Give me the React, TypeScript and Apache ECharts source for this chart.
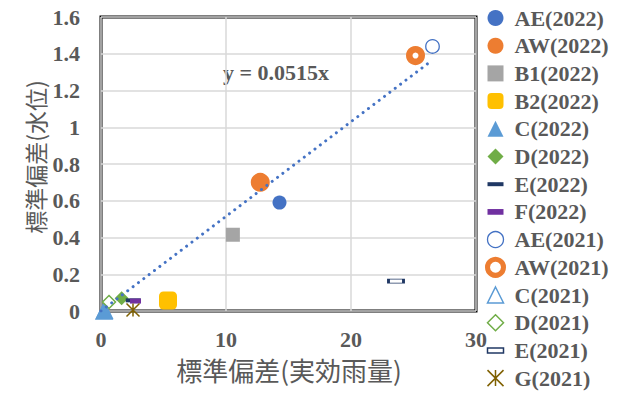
import React, { useEffect, useRef } from "react";
import * as echarts from "echarts";

// ---- data ----
const seriesNames = [
  "AE(2022)", "AW(2022)", "B1(2022)", "B2(2022)", "C(2022)", "D(2022)", "E(2022)",
  "F(2022)", "AE(2021)", "AW(2021)", "C(2021)", "D(2021)", "E(2021)", "G(2021)",
];
const xValues = [14.28, 12.74, 10.55, 5.36, 0.28, 1.65, 2.58, 2.76, 26.52, 25.16, 0.25, 0.64, 23.6, 2.56];
const yValues = [0.59, 0.70, 0.415, 0.057, 0.005, 0.069, 0.058, 0.054, 1.44, 1.39, 0.0, 0.049, 0.162, 0.005];
const trendSlope = 0.0515;
const xTicks = [0, 10, 20, 30];
const yTicks = [0, 0.2, 0.4, 0.6, 0.8, 1, 1.2, 1.4, 1.6];
const xTitle = "標準偏差(実効雨量)";
const yTitle = "標準偏差(水位)";

// ---- styles ----
const BLUE = "#4472C4";
const ORANGE = "#ED7D31";
const GRAY = "#A5A5A5";
const YELLOW = "#FFC000";
const LBLUE = "#5B9BD5";
const GREEN = "#70AD47";
const NAVY = "#203864";
const PURPLE = "#7030A0";
const BROWN = "#7F6000";
const TXT = "#595959";
const STAR = "path://M0,0L10,10M10,0L0,10M5,0L5,10";

type Sty = { symbol: string; size: number | number[]; item: any; icon?: string; legendItem?: any; z?: number };
const styles: Sty[] = [
  { symbol: "circle", size: 14, item: { color: BLUE } },
  { symbol: "circle", size: 19, item: { color: ORANGE } },
  { symbol: "rect", size: 14, item: { color: GRAY } },
  { symbol: "roundRect", size: 18, item: { color: YELLOW } },
  { symbol: "triangle", size: 18, item: { color: LBLUE } },
  { symbol: "diamond", size: 14, item: { color: GREEN } },
  { symbol: "rect", size: [15, 4], item: { color: NAVY }, icon: "path://M0,0h16v4h-16z" },
  { symbol: "rect", size: [11, 5], item: { color: PURPLE }, icon: "path://M0,0h14v5h-14z" },
  { symbol: "circle", size: 13.5, item: { color: "#fff", borderColor: BLUE, borderWidth: 1.3 }, legendItem: { borderWidth: 1.3 } },
  { symbol: "circle", size: 12.5, item: { color: "#fff", borderColor: ORANGE, borderWidth: 6.5 }, legendItem: { borderWidth: 5 } },
  { symbol: "triangle", size: 16, item: { color: "#fff", borderColor: LBLUE, borderWidth: 1.5 }, legendItem: { borderWidth: 1.5 }, z: 1 },
  { symbol: "diamond", size: 13, item: { color: "#fff", borderColor: GREEN, borderWidth: 1.5 }, legendItem: { borderWidth: 1.5 } },
  { symbol: "rect", size: [15, 4], item: { color: "#fff", borderColor: NAVY, borderWidth: 1.5 }, icon: "path://M0,0h16v5h-16z", legendItem: { borderWidth: 1.5 } },
  { symbol: STAR, size: 13, item: { color: BROWN, borderColor: BROWN, borderWidth: 1.5 }, legendItem: { borderWidth: 1.5 } },
];

export default function App() {
  const ref = useRef<HTMLDivElement>(null);
  useEffect(() => {
    if (!ref.current) return;
    const chart = echarts.init(ref.current, null, { renderer: "svg" });
    const maxX = Math.max(...xValues);
    const trendData = [
      [0, 0],
      [maxX, trendSlope * maxX],
    ];
    const scatter = seriesNames.map((name, i) => ({
      type: "scatter",
      name,
      data: [[xValues[i], yValues[i]]],
      symbol: styles[i].symbol,
      symbolSize: styles[i].size,
      itemStyle: { opacity: 1, ...styles[i].item },
      z: styles[i].z ?? 3,
    }));
    const tickFont = { fontFamily: "Liberation Serif", fontWeight: "bold", fontSize: 22, color: TXT };
    chart.setOption({
      animation: false,
      grid: {
        left: 101, top: 17, width: 375, height: 294,
        show: true, borderColor: "#000", borderWidth: 3, backgroundColor: "transparent",
      },
      xAxis: {
        type: "value", min: xTicks[0], max: xTicks[xTicks.length - 1], interval: 10,
        axisLine: { show: false }, axisTick: { show: false },
        splitLine: { lineStyle: { color: "#D9D9D9", width: 1.5 } },
        axisLabel: { ...tickFont, margin: 17, lineHeight: 22 },
      },
      yAxis: {
        type: "value", min: yTicks[0], max: yTicks[yTicks.length - 1], interval: 0.2,
        axisLine: { show: false }, axisTick: { show: false },
        splitLine: { lineStyle: { color: "#D9D9D9", width: 1.5 } },
        axisLabel: { ...tickFont, margin: 21 },
      },
      legend: {
        orient: "vertical", left: 485, top: 7, padding: 0,
        itemWidth: 16, itemHeight: 16, itemGap: 5.7,
        textStyle: { ...tickFont, lineHeight: 22, padding: [0, 0, 0, 6] },
        data: seriesNames.map((n, i) => {
          const d: any = { name: n };
          if (styles[i].icon) d.icon = styles[i].icon;
          if (styles[i].legendItem) d.itemStyle = styles[i].legendItem;
          return d;
        }),
      },
      graphic: [
        {
          type: "text", x: 276, y: 72,
          style: {
            text: `y = ${trendSlope}x`, align: "center", verticalAlign: "middle",
            fontFamily: "Liberation Serif", fontWeight: "bold", fontSize: 22, fill: TXT,
          },
        },
        {
          type: "text", x: 289, y: 369,
          style: {
            text: xTitle, align: "center", verticalAlign: "middle", lineHeight: 26,
            fontFamily: "Noto Sans CJK JP", fontSize: 26, fill: TXT,
          },
        },
        {
          type: "text", x: 35, y: 157, rotation: Math.PI / 2,
          style: {
            text: yTitle, align: "center", verticalAlign: "middle", lineHeight: 23,
            fontFamily: "Noto Sans CJK JP", fontSize: 23, fill: TXT,
          },
        },
      ],
      series: [
        ...scatter,
        {
          type: "line", name: "trend", data: trendData, symbol: "none", z: 4,
          lineStyle: { color: BLUE, width: 3, type: [0.01, 6.7], cap: "round" },
          silent: true,
        },
      ],
    });
    return () => chart.dispose();
  }, []);
  return (
    <div
      ref={ref}
      style={{ position: "absolute", left: 0, top: 0, width: 636, height: 396, background: "#fff" }}
    />
  );
}
